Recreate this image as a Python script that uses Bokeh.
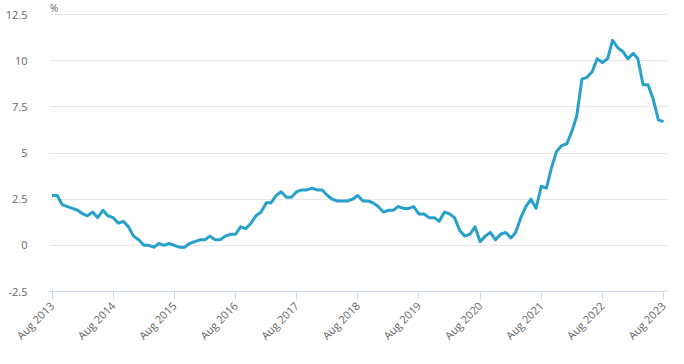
import pandas as pd
from bokeh.plotting import figure
from bokeh.models import FixedTicker, DatetimeTickFormatter, Range1d, Label, ColumnDataSource
from bokeh.embed import file_html
from bokeh.resources import INLINE

start_month = "2013-08-01"
cpi = [
    2.7, 2.7, 2.2, 2.1, 2.0,
    1.9, 1.7, 1.6, 1.8, 1.5, 1.9, 1.6, 1.5, 1.2, 1.3, 1.0, 0.5,
    0.3, 0.0, 0.0, -0.1, 0.1, 0.0, 0.1, 0.0, -0.1, -0.1, 0.1, 0.2,
    0.3, 0.3, 0.5, 0.3, 0.3, 0.5, 0.6, 0.6, 1.0, 0.9, 1.2, 1.6,
    1.8, 2.3, 2.3, 2.7, 2.9, 2.6, 2.6, 2.9, 3.0, 3.0, 3.1, 3.0,
    3.0, 2.7, 2.5, 2.4, 2.4, 2.4, 2.5, 2.7, 2.4, 2.4, 2.3, 2.1,
    1.8, 1.9, 1.9, 2.1, 2.0, 2.0, 2.1, 1.7, 1.7, 1.5, 1.5, 1.3,
    1.8, 1.7, 1.5, 0.8, 0.5, 0.6, 1.0, 0.2, 0.5, 0.7, 0.3, 0.6,
    0.7, 0.4, 0.7, 1.5, 2.1, 2.5, 2.0, 3.2, 3.1, 4.2, 5.1, 5.4,
    5.5, 6.2, 7.0, 9.0, 9.1, 9.4, 10.1, 9.9, 10.1, 11.1, 10.7, 10.5,
    10.1, 10.4, 10.1, 8.7, 8.7, 7.9, 6.8, 6.7,
]
months = pd.date_range(start_month, periods=len(cpi), freq="MS")
tick_years = list(range(2013, 2024))
y_ticks = [-2.5, 0, 2.5, 5, 7.5, 10, 12.5]
y_labels = {-2.5: "-2.5", 0: "0", 2.5: "2.5", 5: "5", 7.5: "7.5", 10: "10", 12.5: "12.5"}
unit_label = "%"

src = ColumnDataSource(dict(x=months, y=cpi))

x_start = pd.Timestamp(start_month) - pd.Timedelta(days=15)
x_end = months[-1] + pd.Timedelta(days=24)

# 12.5 gridline sits 14px below the frame top (room for the "%" unit label)
px_per_unit = 277 / 15.0
y_top = 12.5 + 14 / px_per_unit

p = figure(
    output_backend="svg", toolbar_location=None, x_axis_type="datetime",
    frame_width=618, frame_height=291,
    min_border_left=49, min_border_right=9, min_border_top=0, min_border_bottom=57,
    x_range=Range1d(x_start, x_end), y_range=Range1d(-2.5, y_top),
)
p.outline_line_color = None
p.background_fill_color = "white"

p.line("x", "y", source=src, line_color="#28a0cc", line_width=3, line_join="round")

FONT = "Open Sans"
GREY = "#666666"

tick_ms = [pd.Timestamp(f"{y}-08-01").value // 10**6 for y in tick_years]
p.xaxis.ticker = FixedTicker(ticks=tick_ms)
p.xaxis.formatter = DatetimeTickFormatter(days="%b %Y", months="%b %Y", years="%b %Y")
p.xaxis.major_label_orientation = 0.785398
p.xaxis.axis_line_color = "#ccd6eb"
p.xaxis.major_tick_line_color = "#ccd6eb"
p.xaxis.major_tick_out = 8
p.xaxis.major_tick_in = 0
p.xaxis.minor_tick_line_color = None
p.xaxis.major_label_text_font = FONT
p.xaxis.major_label_text_font_size = "11px"
p.xaxis.major_label_text_color = GREY
p.xaxis.major_label_standoff = 4
p.xgrid.grid_line_color = None

p.yaxis.ticker = FixedTicker(ticks=y_ticks)
p.yaxis.major_label_overrides = y_labels
p.yaxis.axis_line_color = None
p.yaxis.major_tick_line_color = None
p.yaxis.minor_tick_line_color = None
p.yaxis.major_label_text_font = FONT
p.yaxis.major_label_text_font_size = "11px"
p.yaxis.major_label_text_color = GREY
p.yaxis.major_label_standoff = 16
p.ygrid.grid_line_color = "#e6e6e6"

p.add_layout(Label(x=months[0], y=12.5, text=unit_label, y_offset=7, x_offset=-2,
                   text_font=FONT, text_font_size="10px", text_color=GREY,
                   text_baseline="middle"))

open("out.html", "w").write(file_html(p, INLINE))
